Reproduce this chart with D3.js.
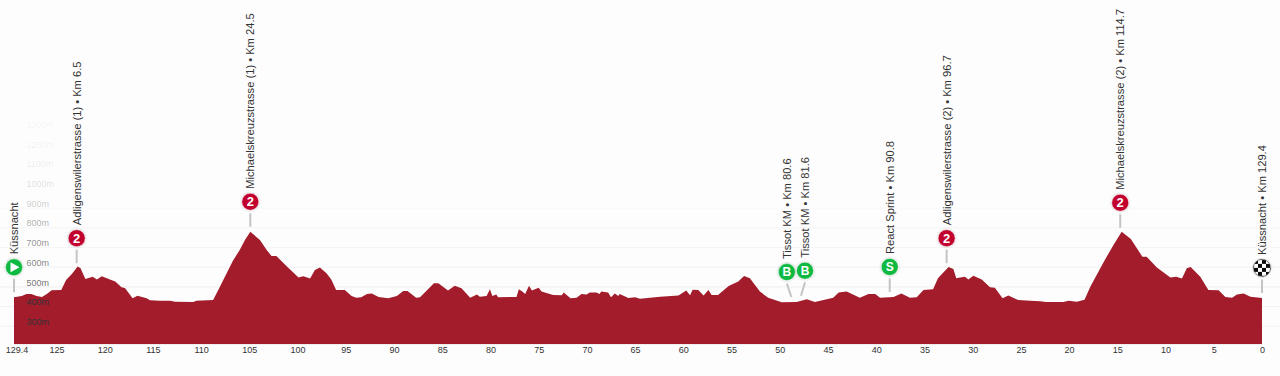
<!DOCTYPE html>
<html>
<head>
<meta charset="utf-8">
<title>Stage profile</title>
<script src="https://cdn.jsdelivr.net/npm/d3@7"></script>
<style>
  html, body { margin: 0; padding: 0; background: #fdfdfd; overflow: hidden; }
  text { font-family: "Liberation Sans", Arial, sans-serif; }
</style>
</head>
<body>
<div id="profile"></div>
<script>
// Distance to go (km) and elevation (m)
const kmToGo = [
  129.4, 128.6, 128.1, 127.6, 127.06, 126.5, 126.0, 125.5, 124.5, 124.0, 123.4, 122.8, 122.5, 122.0, 121.25, 120.8,
  120.3, 119.45, 118.9, 118.25, 117.9, 117.1, 116.6, 115.65, 115.3, 114.3, 113.2, 112.7, 110.8, 110.5, 108.75, 108.05,
  106.7, 106.0, 105.45, 104.9, 103.9, 103.2, 102.7, 102.2, 101.1, 99.9, 99.4, 98.7, 98.2, 97.68,
  97.0, 96.5, 96.0, 95.1, 94.4, 93.9, 93.4, 92.8, 92.3, 91.6, 90.6, 89.7, 89.04, 88.6, 87.7, 87.3,
  86.6, 85.86, 85.4, 84.4, 83.7, 83.0, 82.1, 81.4, 81.1, 80.4, 80.05, 79.8, 79.4, 79.2, 77.3, 77.05,
  76.7, 76.4, 76.0, 75.7, 75.0, 74.7, 73.5, 72.6, 72.4, 71.7, 71.07, 70.55, 70.03, 69.7, 69.0, 68.7,
  68.5, 67.8, 67.5, 67.1, 66.75, 66.6, 65.7, 65.0, 64.5,
  62.4, 60.5, 59.7, 59.3, 59.04, 58.45, 57.9, 57.4, 57.07, 56.4, 55.3, 54.3, 53.7, 53.1, 52.06, 51.2,
  49.8, 48.26, 47.2, 46.36, 44.46, 43.9, 43.07, 41.7, 40.8, 40.1, 39.6, 38.2, 37.4, 36.5, 35.8, 35.1,
  34.1, 33.6, 32.5, 32.0, 31.7, 31.3,
  30.8, 30.45, 29.93, 29.06, 28.2, 27.7, 26.9, 26.3, 25.26, 24.05, 23.0, 22.4, 20.6, 20.07, 19.2, 18.4,
  17.8, 16.4, 15.4, 14.55, 13.6, 12.4, 11.96, 10.9, 9.5, 8.9, 8.3, 7.8, 7.4, 6.4, 5.56, 4.5,
  3.8, 3.1, 2.6, 1.9, 1.2, 0
];
const elevation = [
  447, 454, 464, 464, 454, 449, 464, 483, 484, 535, 566, 603, 594, 540, 552, 538,
  554, 538, 527, 498, 494, 442, 455, 442, 432, 430, 430, 425, 423, 430, 434, 501,
  633, 687, 738, 780, 738, 687, 657, 657, 603, 547, 554, 542, 586, 598,
  569, 538, 484, 484, 454, 445, 447, 464, 467, 449, 442, 454, 479, 479, 445, 447,
  481, 518, 518, 481, 506, 493, 445, 461, 450, 454, 488, 454, 461, 447, 449, 488,
  476, 464, 506, 481, 496, 477, 459, 457, 471, 442, 445, 464, 461, 471, 472, 464,
  477, 471, 447, 467, 454, 464, 444, 447, 440,
  450, 456, 481, 457, 486, 484, 456, 484, 459, 459, 505, 527, 555, 544, 476, 445,
  422, 423, 437, 423, 445, 471, 476, 445, 464, 464, 445, 449, 467, 445, 447, 484,
  488, 544, 601, 591, 544, 547,
  552, 538, 557, 538, 498, 496, 442, 456, 433, 430, 427, 423, 423, 430, 425, 435,
  501, 628, 713, 780, 743, 653, 653, 599, 547, 552, 542, 594, 601, 552, 484, 483,
  449, 445, 461, 466, 450, 444
];

const kmTicks = [129.4, 125, 120, 115, 110, 105, 100, 95, 90, 85, 80, 75, 70, 65, 60, 55, 50, 45, 40, 35, 30, 25, 20, 15, 10, 5, 0];
const elevationTicks = [300, 400, 500, 600, 700, 800, 900, 1000, 1100, 1200, 1300, 1400];

// Points of the route
const pointNames = [
  "Küssnacht", "Adligenswilerstrasse (1) • Km 6.5", "Michaelskreuzstrasse (1) • Km 24.5",
  "Tissot KM • Km 80.6", "Tissot KM • Km 81.6", "React Sprint • Km 90.8",
  "Adligenswilerstrasse (2) • Km 96.7", "Michaelskreuzstrasse (2) • Km 114.7", "Küssnacht • Km 129.4"
];
const pointKm = [129.4, 122.9, 104.9, 48.8, 47.8, 38.6, 32.7, 14.7, 0];
const pointElevation = [447, 595, 780, 423, 430, 449, 595, 775, 444];
const pointBadges = ["start", "2", "2", "B", "B", "S", "2", "2", "finish"];


/*******************************/
/*    Declare the constants    */
/*******************************/
const width = 1280;
const height = 376;
const red = "#a21c2c";
const badgeRed = "#c1002e";
const badgeGreen = "#0db93f";
const textColor = "#333";


/*******************************/
/*    Append the containers    */
/*******************************/
const svg = d3.select("#profile")
  .append("svg")
    .attr("width", width)
    .attr("height", height)
    .style("display", "block");

const defs = svg.append("defs");

const shadow = defs.append("filter")
    .attr("id", "badge-shadow")
    .attr("x", "-30%").attr("y", "-30%")
    .attr("width", "160%").attr("height", "160%");
shadow.append("feDropShadow")
    .attr("dx", 0).attr("dy", 0)
    .attr("stdDeviation", 1)
    .attr("flood-color", "#000")
    .attr("flood-opacity", 0.3);

const checker = defs.append("pattern")
    .attr("id", "checker")
    .attr("patternUnits", "userSpaceOnUse")
    .attr("width", 8).attr("height", 8)
    .attr("x", -4).attr("y", -4);
checker.append("rect").attr("width", 8).attr("height", 8).attr("fill", "#fff");
checker.append("rect").attr("width", 4).attr("height", 4).attr("fill", "#111");
checker.append("rect").attr("x", 4).attr("y", 4).attr("width", 4).attr("height", 4).attr("fill", "#111");


/****************************/
/*    Declare the scales    */
/****************************/
const xScale = d3.scaleLinear()
  .domain([129.4, 0])
  .range([14, 1262]);

const yScale = d3.scaleLinear()
  .domain([210, 1400])
  .range([344, 109.6]);

const fade = d3.scaleLinear()
  .domain([400, 500, 700, 900, 1100, 1400])
  .range([1, 0.7, 0.55, 0.25, 0.1, 0.03]);

const gridFade = d3.scaleLinear()
  .domain([500, 800, 1000])
  .range([0.8, 0.5, 0])
  .clamp(true);


/*************************/
/*    Append the grid    */
/*************************/
svg.append("g")
    .attr("class", "grid")
  .selectAll("line")
  .data(elevationTicks)
  .join("line")
    .attr("x1", 0)
    .attr("x2", width)
    .attr("y1", d => yScale(d))
    .attr("y2", d => yScale(d))
    .attr("stroke", "#eee")
    .attr("stroke-opacity", d => gridFade(d));


/*************************/
/*    Append the area    */
/*************************/
const areaGenerator = d3.area()
  .x((d, i) => xScale(kmToGo[i]))
  .y0(yScale(210))
  .y1(d => yScale(d));

svg.append("path")
    .attr("d", areaGenerator(elevation))
    .attr("fill", red);

svg.append("line")
    .attr("x1", xScale(129.4))
    .attr("x2", xScale(0))
    .attr("y1", 344.5)
    .attr("y2", 344.5)
    .attr("stroke", "#eee");


/*************************/
/*    Append the axes    */
/*************************/
const leftAxis = d3.axisLeft(yScale)
  .tickValues(elevationTicks)
  .tickSize(0)
  .tickFormat(d => `${d}m`);

const leftAxisGroup = svg.append("g")
    .attr("transform", "translate(26.5, 0)")
    .call(leftAxis);
leftAxisGroup.select(".domain").remove();
leftAxisGroup.selectAll("text")
    .attr("text-anchor", "start")
    .attr("x", 0)
    .attr("dy", "-0.2em")
    .attr("fill", "#333")
    .attr("fill-opacity", d => fade(d))
    .style("font-size", "9px");

const bottomAxis = d3.axisBottom(xScale)
  .tickValues(kmTicks)
  .tickSize(0)
  .tickFormat(d => d);

const bottomAxisGroup = svg.append("g")
    .attr("transform", "translate(0, 344)")
    .call(bottomAxis);
bottomAxisGroup.select(".domain").remove();
bottomAxisGroup.selectAll("text")
    .attr("y", 3)
    .attr("dx", d => d === 129.4 ? 2.5 : 0)
    .attr("fill", textColor)
    .style("font-size", "9px");


/***************************/
/*    Append the points    */
/***************************/
const leaderGap = 5;
const leaderLength = 13.5;
const badgeRadius = 8.5;

pointNames.forEach((name, i) => {
  const x = xScale(pointKm[i]);
  const top = yScale(pointElevation[i]) - leaderGap;
  // The two Tissot badges are pushed apart so they do not overlap
  const dodge = pointBadges[i] === "B" ? (pointKm[i] > 48 ? -4.5 : 4) : 0;
  const badgeX = x + dodge;
  const badgeY = top - leaderLength - 3 - badgeRadius;

  svg.append("line")
      .attr("x1", x)
      .attr("y1", top)
      .attr("x2", badgeX)
      .attr("y2", top - leaderLength)
      .attr("stroke", "#c4c4c4")
      .attr("stroke-width", 2);

  const badge = svg.append("g")
      .attr("transform", `translate(${badgeX}, ${badgeY})`);

  const type = pointBadges[i];
  const fill = type === "finish" ? "url(#checker)" : type === "2" ? badgeRed : badgeGreen;
  badge.append("circle")
      .attr("r", badgeRadius)
      .attr("fill", fill)
      .attr("stroke", type === "finish" ? "#222" : "#fff")
      .attr("stroke-width", 0.5)
      .attr("filter", "url(#badge-shadow)");

  if (type === "start") {
    badge.append("path")
        .attr("d", "M-3.5,-5L5.5,0L-3.5,5Z")
        .attr("fill", "#fff");
  } else if (type !== "finish") {
    badge.append("text")
        .text(type)
        .attr("text-anchor", "middle")
        .attr("dominant-baseline", "central")
        .attr("fill", "#fff")
        .style("font-size", type === "2" ? "13px" : "12px")
        .style("font-weight", "bold");
  }

  svg.append("text")
      .text(name)
      .attr("transform", `translate(${badgeX}, ${badgeY - badgeRadius - 4.5}) rotate(-90)`)
      .attr("dominant-baseline", "central")
      .attr("fill", textColor)
      .style("font-size", "11.15px");
});
</script>
</body>
</html>
